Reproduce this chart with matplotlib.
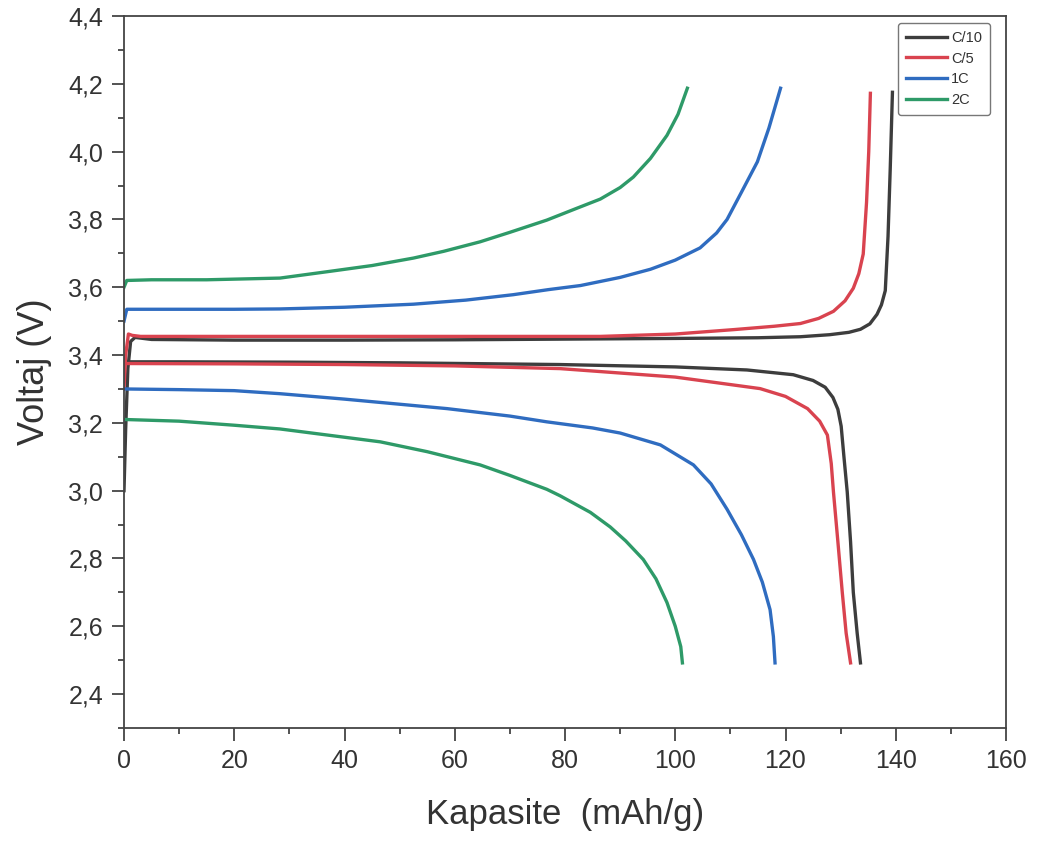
import matplotlib
matplotlib.use("Agg")
import matplotlib.pyplot as plt
from matplotlib.ticker import MultipleLocator, FuncFormatter

plt.rcParams["font.family"] = ["Liberation Sans", "DejaVu Sans"]

rates = ["C/10", "C/5", "1C", "2C"]
colors = ["#3d3d3d", "#d9434f", "#2f6cc0", "#2e9a68"]

# charge branches (capacity mAh/g, voltage V)
c10_chg_x = [0, 0.3, 0.7, 1.2, 2, 5, 20, 40, 60, 80, 100, 115, 122.7, 128, 131.5,
             133.6, 135.3, 136.6, 137.4, 138.1, 138.6, 139.0, 139.4]
c10_chg_y = [3.00, 3.18, 3.36, 3.44, 3.452, 3.446, 3.444, 3.444, 3.445, 3.447, 3.449,
             3.451, 3.454, 3.460, 3.467, 3.476, 3.492, 3.52, 3.548, 3.59, 3.75, 3.95, 4.175]
c5_chg_x = [0, 0.3, 0.8, 1.5, 3, 20, 40, 60, 86.4, 100, 110.6, 118, 122.7, 126, 128.7,
            130.8, 132.3, 133.3, 134.1, 134.7, 135.1, 135.4]
c5_chg_y = [3.30, 3.40, 3.462, 3.458, 3.455, 3.455, 3.455, 3.455, 3.455, 3.462, 3.475,
            3.485, 3.493, 3.508, 3.529, 3.56, 3.597, 3.64, 3.698, 3.85, 4.0, 4.172]
c1_chg_x = [0, 0.5, 10, 20, 28.3, 40, 52.5, 62, 70.6, 77, 82.8, 86.4, 90, 95.5, 100,
            104.5, 107.5, 109.4, 112, 114.9, 117, 119.1]
c1_chg_y = [3.50, 3.535, 3.535, 3.535, 3.536, 3.541, 3.55, 3.562, 3.578, 3.593, 3.605,
            3.617, 3.629, 3.653, 3.68, 3.716, 3.76, 3.80, 3.88, 3.97, 4.07, 4.187]
c2_chg_x = [0, 0.5, 5, 15, 28.3, 37.4, 45, 52.5, 58, 64.6, 70, 76.7, 82, 86.4, 90,
            92.4, 95.5, 98.5, 100.5, 102.2]
c2_chg_y = [3.60, 3.62, 3.622, 3.622, 3.627, 3.647, 3.664, 3.686, 3.706, 3.734, 3.762,
            3.798, 3.832, 3.86, 3.894, 3.925, 3.98, 4.048, 4.11, 4.187]

# discharge branches
c10_dis_x = [0, 10, 30, 50, 79.1, 100, 113, 121.4, 125, 127.2, 128.6, 129.5, 130.1,
             130.6, 131.2, 131.8, 132.3, 133.0, 133.6]
c10_dis_y = [3.38, 3.38, 3.379, 3.377, 3.372, 3.365, 3.356, 3.342, 3.325, 3.305, 3.275,
             3.24, 3.19, 3.10, 2.996, 2.85, 2.70, 2.58, 2.492]
c5_dis_x = [0, 20, 40, 60, 79.1, 100, 115.4, 120, 124, 126.2, 127.6, 128.3, 128.7,
            129.5, 130.3, 131, 131.8]
c5_dis_y = [3.375, 3.374, 3.372, 3.368, 3.36, 3.335, 3.301, 3.278, 3.242, 3.205, 3.164,
            3.08, 2.996, 2.85, 2.70, 2.58, 2.492]
c1_dis_x = [0, 10, 20, 28.3, 40, 58.6, 70, 76.7, 85, 90, 97.3, 103.3, 106.5, 109.4,
            112, 114.2, 115.8, 117.2, 117.8, 118.1]
c1_dis_y = [3.30, 3.298, 3.295, 3.286, 3.27, 3.242, 3.22, 3.203, 3.185, 3.17, 3.135,
            3.076, 3.02, 2.945, 2.87, 2.797, 2.73, 2.649, 2.57, 2.492]
c2_dis_x = [0, 10, 20, 28.3, 46.5, 55, 64.6, 70, 76.7, 79.1, 84.6, 88.2, 91, 94.2,
            96.5, 98.5, 100, 101, 101.3]
c2_dis_y = [3.21, 3.205, 3.193, 3.182, 3.144, 3.115, 3.076, 3.045, 3.004, 2.985, 2.936,
            2.893, 2.852, 2.797, 2.74, 2.67, 2.60, 2.54, 2.492]

charge = [(c10_chg_x, c10_chg_y), (c5_chg_x, c5_chg_y),
          (c1_chg_x, c1_chg_y), (c2_chg_x, c2_chg_y)]
discharge = [(c10_dis_x, c10_dis_y), (c5_dis_x, c5_dis_y),
             (c1_dis_x, c1_dis_y), (c2_dis_x, c2_dis_y)]

fig = plt.figure(figsize=(10.44, 8.43), dpi=100)
ax = fig.add_axes([124 / 1044, 1 - 728 / 843, 882 / 1044, 712 / 843])

for label, color, (cx, cy), (dx, dy) in zip(rates, colors, charge, discharge):
    ax.plot(cx, cy, color=color, lw=2.4, label=label, solid_joinstyle="round")
    ax.plot(dx, dy, color=color, lw=2.4, solid_joinstyle="round")

ax.set_xlim(0, 160)
ax.set_ylim(2.3, 4.4)
ax.xaxis.set_major_locator(MultipleLocator(20))
ax.xaxis.set_minor_locator(MultipleLocator(10))
ax.yaxis.set_major_locator(MultipleLocator(0.2))
ax.yaxis.set_minor_locator(MultipleLocator(0.1))
ax.yaxis.set_major_formatter(FuncFormatter(lambda v, p: f"{v:.1f}".replace(".", ",")))
ax.xaxis.set_major_formatter(FuncFormatter(lambda v, p: f"{v:.0f}"))

text_color = "#333333"
for side in ["left", "bottom", "right", "top"]:
    ax.spines[side].set_linewidth(1.3)
    ax.spines[side].set_color("#444444")
ax.tick_params(which="major", direction="out", length=9, width=1.3,
               labelsize=18, colors="#444444", labelcolor=text_color, pad=6)
ax.tick_params(which="minor", direction="out", length=4, width=1.3, colors="#444444")

ax.set_xlabel("Kapasite  (mAh/g)", fontsize=25, color=text_color, labelpad=18)
ax.set_ylabel("Voltaj (V)", fontsize=26, color=text_color, labelpad=12)

leg = ax.legend(loc="upper right", bbox_to_anchor=(990 / 1044, 1 - 23 / 843),
                bbox_transform=fig.transFigure, borderaxespad=0, fontsize=10.5,
                handlelength=2.8, handletextpad=0.3, labelspacing=0.45,
                borderpad=0.55, fancybox=True, framealpha=1)
leg.get_frame().set_edgecolor("#777777")
leg.get_frame().set_linewidth(1.0)
leg.get_frame().set_boxstyle("round", pad=0, rounding_size=0.2)
for t in leg.get_texts():
    t.set_color(text_color)

fig.savefig("out.png", dpi=100)
